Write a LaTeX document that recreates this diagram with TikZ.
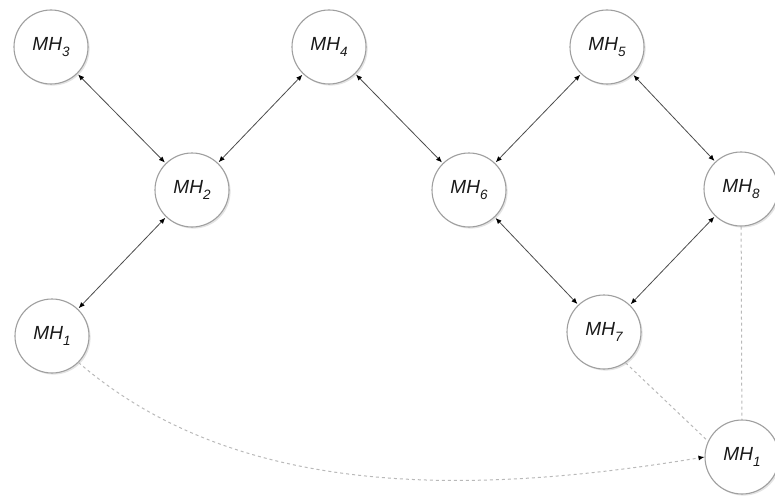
\documentclass[tikz,border=0pt]{standalone}
\usepackage{fontspec}
\setmainfont{Liberation Sans}
\usetikzlibrary{arrows.meta,shadows}

\newcommand{\mh}[1]{\textit{MH}\raisebox{-0.28em}{\fontsize{13.5}{13.5}\selectfont\itshape #1}}

\tikzset{
  tip/.tip={Latex[length=6pt,width=5pt,color=black]},
  host/.style={circle, draw=gray!75, line width=1.1pt, fill=white,
    minimum size=74pt, inner sep=0pt, text=black!90,
    font=\fontsize{19}{19}\selectfont,
    drop shadow={shadow xshift=1.6pt, shadow yshift=-1.6pt, opacity=0.22}},
  link/.style={tip-tip, draw=gray!60!black, line width=0.8pt,
    shorten <=1pt, shorten >=1pt},
  weak/.style={draw=gray!55, line width=1pt, dash pattern=on 3pt off 3pt},
}

\begin{document}
\begin{tikzpicture}[x=1pt, y=-1pt]
  \useasboundingbox (0,0) rectangle (775,500);

  % hosts
  \node[host] (m3) at (51,47)   {\mh{3}};
  \node[host] (m4) at (329,47)  {\mh{4}};
  \node[host] (m5) at (607,47)  {\mh{5}};
  \node[host] (m2) at (192,190) {\mh{2}};
  \node[host] (m6) at (469,190) {\mh{6}};
  \node[host] (m8) at (741,189) {\mh{8}};
  \node[host] (m1) at (52,336)  {\mh{1}};
  \node[host] (m7) at (604,332) {\mh{7}};
  \node[host] (m1b) at (742,457) {\mh{1}};

  % two-way links
  \draw[link] (m3) -- (m2);
  \draw[link] (m2) -- (m4);
  \draw[link] (m2) -- (m1);
  \draw[link] (m4) -- (m6);
  \draw[link] (m6) -- (m5);
  \draw[link] (m5) -- (m8);
  \draw[link] (m6) -- (m7);
  \draw[link] (m7) -- (m8);

  % weak links
  \draw[weak] (m7.-55) -- (m1b.155);
  \draw[weak] (m8) -- (m1b);
  \draw[weak, -tip] (m1.-45)
    .. controls +(160,138) and +(-230,38) .. (m1b.west);
\end{tikzpicture}
\end{document}
